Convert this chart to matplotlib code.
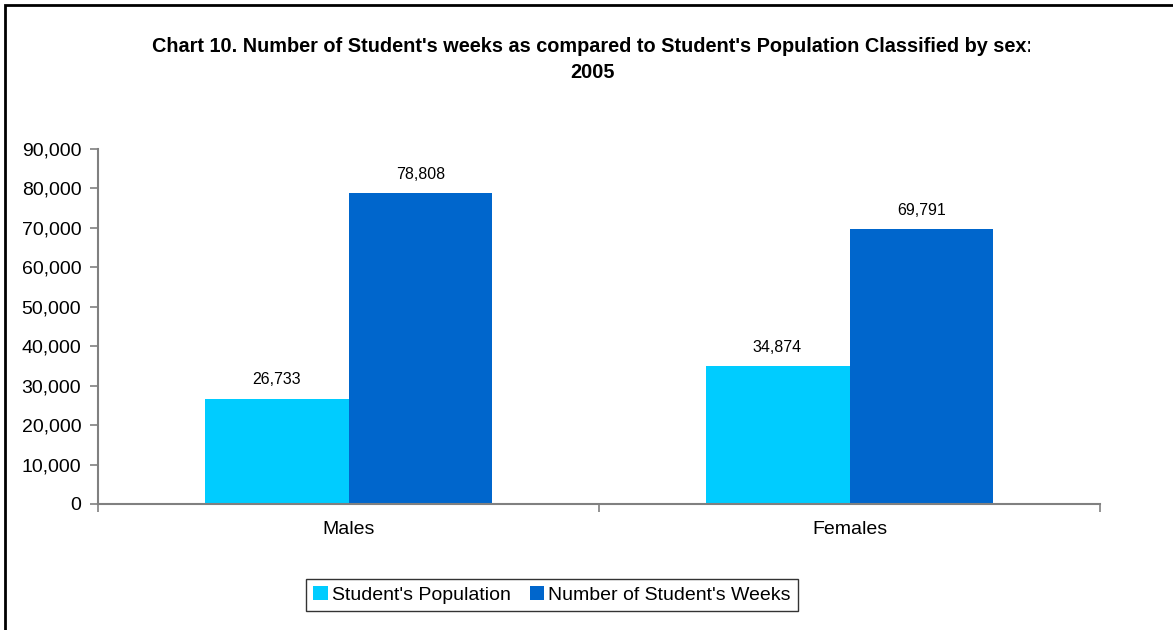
import matplotlib
matplotlib.use("Agg")
import matplotlib.pyplot as plt
from matplotlib.patches import Rectangle
from matplotlib.ticker import FuncFormatter
import numpy as np

categories = ["Males", "Females"]
series_names = ["Student's Population", "Number of Student's Weeks"]
population = [26733, 34874]
weeks = [78808, 69791]
colors = ["#00CCFF", "#0066CC"]

plt.rcParams['font.family'] = ['Liberation Sans', 'DejaVu Sans']

W, H = 1173, 630
fig = plt.figure(figsize=(W / 100, H / 100), dpi=100)

# axes placement in pixels
L, R, T, B = 98, 1100, 149, 504
ax = fig.add_axes([L / W, 1 - B / H, (R - L) / W, (B - T) / H])

x = np.arange(len(categories))
bw = 0.2874
b1 = ax.bar(x - bw / 2, population, bw, color=colors[0], label=series_names[0])
b2 = ax.bar(x + bw / 2, weeks, bw, color=colors[1], label=series_names[1])

for bars, vals in ((b1, population), (b2, weeks)):
    for rect, v in zip(bars, vals):
        ax.annotate(f"{v:,}", (rect.get_x() + rect.get_width() / 2, v),
                    xytext=(0, 8), textcoords="offset points",
                    ha="center", va="bottom", fontsize=11.5, color="black")

ax.set_xlim(-0.5, 1.5)
ax.set_ylim(0, 90000)
ax.set_yticks(np.arange(0, 90001, 10000))
ax.yaxis.set_major_formatter(FuncFormatter(lambda v, p: f"{int(v):,}"))
ax.set_xticks([-0.5, 0.5, 1.5], minor=False)
ax.set_xticklabels([])
ax.set_xticks(x, minor=True)
ax.set_xticklabels(categories, minor=True)
ax.tick_params(axis='x', which='minor', length=0, labelsize=14, pad=12)
ax.tick_params(axis='x', which='major', length=6, color='#808080', width=1.2)
ax.tick_params(axis='y', length=6, color='#808080', width=1.2, labelsize=14, pad=6)

for s in ('top', 'right'):
    ax.spines[s].set_visible(False)
for s in ('left', 'bottom'):
    ax.spines[s].set_color('#808080')
    ax.spines[s].set_linewidth(1.5)

leg = fig.legend(handles=[b1, b2], labels=series_names, loc='center',
                 bbox_to_anchor=(552 / W, 1 - 595 / H), ncol=2, frameon=True,
                 fancybox=False, edgecolor='black', fontsize=14,
                 handlelength=0.75, handleheight=0.75, handletextpad=0.2,
                 columnspacing=1.0, borderpad=0.35, borderaxespad=0)
leg.get_frame().set_linewidth(1.0)

t1 = fig.text(592 / W, 1 - 46 / H,
              "Chart 10. Number of Student's weeks as compared to Student's Population Classified by sex:",
              ha='center', va='center', fontsize=14.3, fontweight='bold')
clip = Rectangle((0, 0), 1030 / W, 1, transform=fig.transFigure, visible=False)
fig.add_artist(clip)
t1.set_clip_path(clip)
t1.set_clip_on(True)
fig.text(592 / W, 1 - 72 / H, "2005", ha='center', va='center', fontsize=14.3, fontweight='bold')

# outer frame (left and top visible)
fig.add_artist(Rectangle((5 / W, -0.05), 1.2, 1 - 5 / H + 0.05, transform=fig.transFigure,
                         fill=False, edgecolor='black', linewidth=2))

fig.savefig("out.png", dpi=100)
